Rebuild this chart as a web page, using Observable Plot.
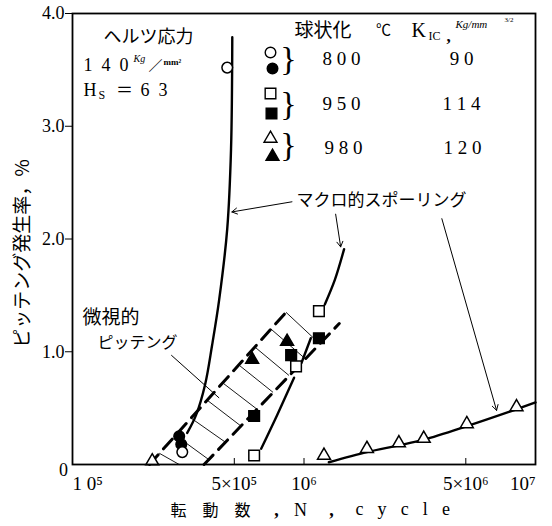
<!DOCTYPE html>
<html><head><meta charset="utf-8">
<script src="https://cdn.jsdelivr.net/npm/d3@7"></script>
<script src="https://cdn.jsdelivr.net/npm/@observablehq/plot@0.6"></script>
<style>body{margin:0;background:#fff}</style>
</head><body><div id="chart"></div>
<script>
// ---- data: [cycles N, pitting rate %] ----
const steel800Open   = [[4.66e5, 3.52], [2.98e5, 0.11]];
const steel800Filled = [[2.89e5, 0.25], [2.95e5, 0.18]];
const steel950Open   = [[6.09e5, 0.08], [9.24e5, 0.87], [1.16e6, 1.36]];
const steel950Filled = [[6.09e5, 0.43], [8.80e5, 0.97], [1.16e6, 1.12]];
const steel980Open   = [[2.21e5, 0.03], [1.22e6, 0.08], [1.87e6, 0.14], [2.57e6, 0.19], [3.29e6, 0.23], [5.05e6, 0.36], [8.28e6, 0.51]];
const steel980Filled = [[5.97e5, 0.93], [8.45e5, 1.09]];

const curve800  = [[4.90e5, 3.79], [4.84e5, 2.80], [4.66e5, 2.09], [4.30e5, 1.46], [4.01e5, 1.06], [3.74e5, 0.71], [3.42e5, 0.44], [3.13e5, 0.28]];
const curve950a = [[6.53e5, 0.14], [7.66e5, 0.44], [9.06e5, 0.77]];
const curve950b = [[9.75e5, 0.90], [1.07e6, 1.12]];
const curve950c = [[1.23e6, 1.42], [1.36e6, 1.64], [1.49e6, 1.91]];
const curve980  = [[1.28e6, 0.02], [1.87e6, 0.11], [2.57e6, 0.17], [3.29e6, 0.22], [5.05e6, 0.34], [8.28e6, 0.49], [1e7, 0.55]];

const bandUpper = [[2.15e5, 0], [8.36e5, 1.35]];
const bandLower = [[3.70e5, 0], [1.42e6, 1.25]];
const hatchStart = [[8.36e5,1.35],[7.21e5,1.20],[6.15e5,1.04],[5.25e5,0.88],[4.48e5,0.72],[3.82e5,0.57],[3.26e5,0.41],[2.78e5,0.26],[2.37e5,0.10]];
const hatchEnd   = [[1.17e6,1.07],[1.01e6,0.94],[8.61e5,0.79],[7.35e5,0.64],[6.27e5,0.49],[5.35e5,0.34],[4.56e5,0.20],[3.90e5,0.04],[2.89e5,0.00]];

const arrowFrom = [[8.87e5, 2.33], [1.37e6, 2.22], [3.94e6, 2.18]];
const arrowTo   = [[4.88e5, 2.24], [1.44e6, 1.93], [6.79e6, 0.48]];
const leaderFrom = [[2.67e5, 0.97]];
const leaderTo   = [[4.30e5, 0.59]];

const yTicks = [1, 2, 3, 4];
const xTicks = [5e5, 1e6, 5e6];
const xTickValues = [1e5, 5e5, 1e6, 5e6, 1e7];
const xTickLabels = ["1 0⁵", "5×10⁵", "10⁶", "5×10⁶", "10⁷"];

const legendTemp = ["8 0 0", "9 5 0", "9 8 0"];
const legendKic  = ["9 0", "1 1 4", "1 2 0"];

// ---- layout ----
const W = 552, H = 526, ML = 72, MR = 17, MT = 13, MB = 62;
const serif = "'Liberation Serif', 'DejaVu Serif', serif";
const jp = "'Noto Sans CJK JP', sans-serif";

const T = (text, x, y, o = {}) => Plot.text([text], {
  frameAnchor: "top-left", dx: x - ML, dy: y - MT, text: d => d,
  textAnchor: o.anchor || "middle", lineAnchor: "middle",
  fontSize: o.size || 17, fontFamily: o.font || serif,
  fontWeight: o.weight || "normal", fontStyle: o.style || "normal",
  rotate: o.rotate || 0, fill: "black"
});
const D = (x, y, symbol, filled, r) => Plot.dot([0], {
  frameAnchor: "top-left", dx: x - ML, dy: y - MT, symbol, r,
  fill: filled ? "black" : "white", stroke: "black", strokeWidth: 1.4
});

const px = d => d[0], py = d => d[1];
const dots = (data, symbol, filled, r) => Plot.dot(data, {
  x: px, y: py, symbol, r, fill: filled ? "black" : "white", stroke: "black", strokeWidth: 1.5
});
const hatch = hatchStart.map((s, i) => ({x1: s[0], y1: s[1], x2: hatchEnd[i][0], y2: hatchEnd[i][1]}));
const arrows = arrowFrom.map((s, i) => ({x1: s[0], y1: s[1], x2: arrowTo[i][0], y2: arrowTo[i][1]}));
const leader = leaderFrom.map((s, i) => ({x1: s[0], y1: s[1], x2: leaderTo[i][0], y2: leaderTo[i][1]}));
const gap = "\u2002\u2009\u200A";

const plot = Plot.plot({
  width: W, height: H,
  marginLeft: ML, marginRight: MR, marginTop: MT, marginBottom: MB,
  x: {type: "log", domain: [1e5, 1e7]},
  y: {domain: [0, 4]},
  style: {fontFamily: serif, fontSize: "17px", background: "white", color: "black"},
  marks: [
    // hatched band
    Plot.link(hatch, {x1: "x1", y1: "y1", x2: "x2", y2: "y2", stroke: "black", strokeWidth: 0.9}),
    Plot.line(bandUpper, {x: px, y: py, stroke: "black", strokeWidth: 3, strokeDasharray: "13,8"}),
    Plot.line(bandLower, {x: px, y: py, stroke: "black", strokeWidth: 3, strokeDasharray: "13,8"}),
    // curves
    Plot.line(curve800, {x: px, y: py, curve: "catmull-rom", stroke: "black", strokeWidth: 2.4}),
    Plot.line(curve950a, {x: px, y: py, curve: "catmull-rom", stroke: "black", strokeWidth: 2.4}),
    Plot.line(curve950b, {x: px, y: py, stroke: "black", strokeWidth: 2.4}),
    Plot.line(curve950c, {x: px, y: py, curve: "catmull-rom", stroke: "black", strokeWidth: 2.4}),
    Plot.line(curve980, {x: px, y: py, curve: "catmull-rom", stroke: "black", strokeWidth: 2.4}),
    // arrows and leader
    Plot.arrow(arrows, {x1: "x1", y1: "y1", x2: "x2", y2: "y2", stroke: "black", strokeWidth: 1, headLength: 9}),
    Plot.link(leader, {x1: "x1", y1: "y1", x2: "x2", y2: "y2", stroke: "black", strokeWidth: 1}),
    // markers
    dots(steel800Filled, "circle", true, 5.3),
    dots(steel800Open, "circle", false, 5.3),
    dots(steel950Filled, "square", true, 6),
    dots(steel950Open, "square", false, 6),
    dots(steel980Filled, "triangle", true, 4.8),
    dots(steel980Open, "triangle", false, 4.8),
    // frame and axes
    Plot.frame({stroke: "black", strokeWidth: 1.8}),
    Plot.axisY({ticks: yTicks, tickFormat: d => d.toFixed(1), tickSize: 7, tickPadding: 1, label: null, fontSize: 18}),
    Plot.axisX({ticks: xTicks, tickSize: -6, tickFormat: () => "", label: null}),
    Plot.text(xTickValues.slice(0, 1), {x: d => d, frameAnchor: "bottom", dy: 25, text: (d, i) => xTickLabels[i], textAnchor: "start", fontSize: 19}),
    Plot.text(xTickValues.slice(1, 4), {x: d => d, frameAnchor: "bottom", dy: 25, text: (d, i) => xTickLabels[i + 1], textAnchor: "middle", fontSize: 19}),
    Plot.text(xTickValues.slice(4), {x: d => d, frameAnchor: "bottom", dy: 25, text: () => xTickLabels[4], textAnchor: "end", fontSize: 19}),
    T("0", 63, 470, {size: 18}),
    // axis titles
    T("転　動　数", 170, 510, {anchor: "start", font: jp, size: 16}),
    T(",", 276, 510, {size: 18, weight: "bold"}),
    T("N", 300, 510, {size: 18}),
    T(",", 331, 510, {size: 18, weight: "bold"}),
    T("c" + gap + "y" + gap + "c" + gap + "l" + gap + "e", 355, 509, {anchor: "start", size: 18}),
    T("ピッテング発生率，%", 22, 253, {font: jp, size: 19, rotate: -90}),
    // top-left notes
    T("ヘルツ応力", 148, 37, {font: jp, size: 18}),
    T("1\u20024\u20020", 83, 65, {anchor: "start", size: 18}),
    T("Kg", 133, 58, {anchor: "start", size: 10, style: "italic"}),
    T("／", 155, 65, {font: jp, size: 14}),
    T("mm²", 163, 62, {anchor: "start", size: 9, weight: "bold"}),
    T("H", 83, 90, {anchor: "start", size: 18}),
    T("S", 98, 95, {anchor: "start", size: 12}),
    T("＝", 124, 90, {font: jp, size: 17}),
    T("6\u20023", 140, 90, {anchor: "start", size: 18}),
    // legend header
    T("球状化", 294, 30, {anchor: "start", font: jp, size: 19}),
    T("℃", 383, 30, {font: jp, size: 15}),
    T("K", 411, 30, {anchor: "start", size: 20}),
    T("IC", 428, 36, {anchor: "start", size: 12}),
    T(",", 446, 36, {anchor: "start", size: 17, weight: "bold"}),
    T("Kg/mm", 455, 24, {anchor: "start", size: 11, style: "italic"}),
    T("3/2", 504, 19, {anchor: "start", size: 7}),
    // legend symbols
    D(270, 52, "circle", false, 5.3), D(272, 68, "circle", true, 5.3),
    D(270, 93, "square", false, 6),   D(271, 113, "square", true, 6),
    D(270, 138, "triangle", false, 4.8), D(272, 156, "triangle", true, 4.8),
    T("}", 288, 59, {size: 34}), T("}", 288, 104, {size: 34}), T("}", 288, 145, {size: 34}),
    T(legendTemp[0], 341, 58, {size: 19}), T(legendKic[0], 461, 58, {size: 19}),
    T(legendTemp[1], 341, 103, {size: 19}), T(legendKic[1], 461, 103, {size: 19}),
    T(legendTemp[2], 343, 147, {size: 19}), T(legendKic[2], 462, 147, {size: 19}),
    // annotations
    T("マクロ的スポーリング", 381, 200, {font: jp, size: 17}),
    T("微視的", 82, 317, {anchor: "start", font: jp, size: 19}),
    T("ピッテング", 97, 342, {anchor: "start", font: jp, size: 16})
  ]
});
document.getElementById("chart").appendChild(plot);
</script>
</body></html>
